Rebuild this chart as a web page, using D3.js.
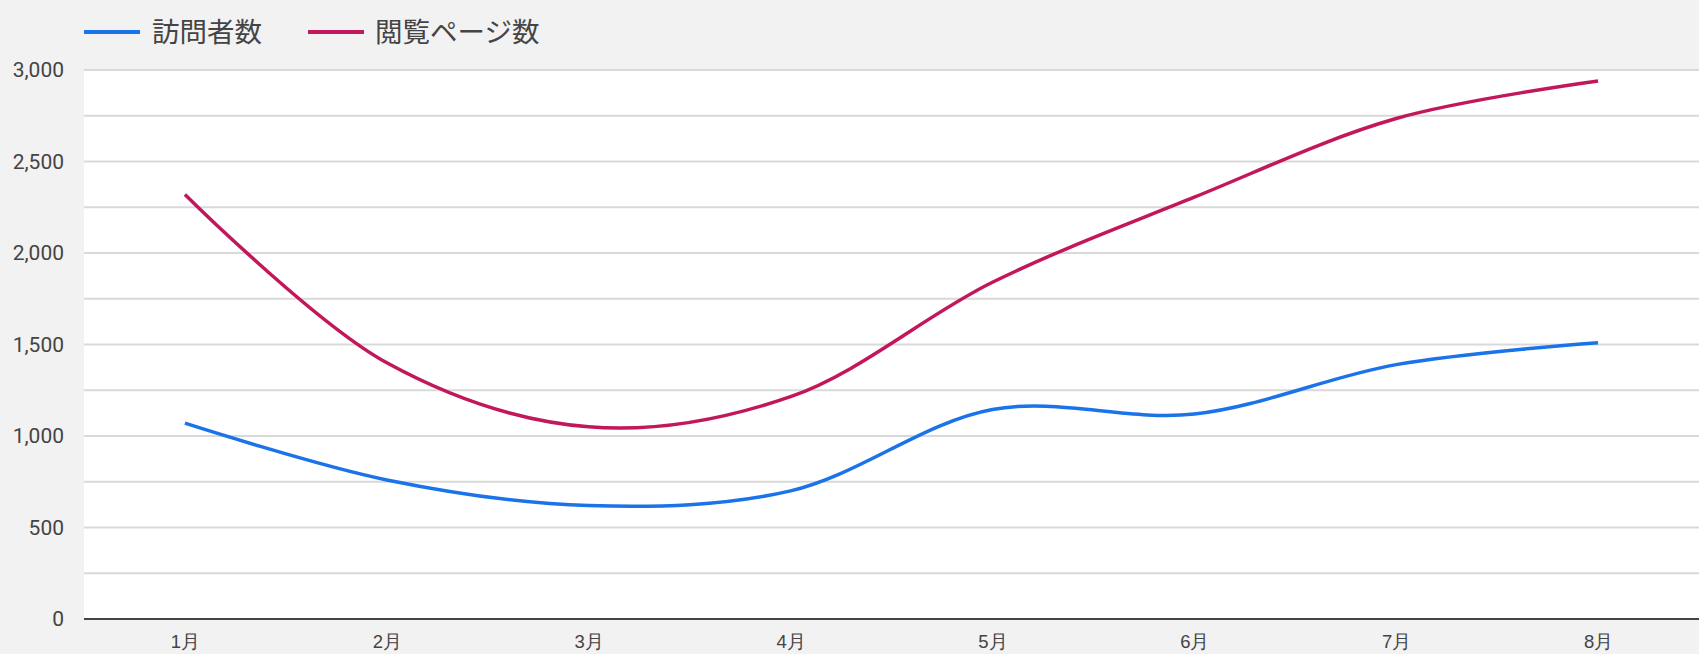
<!DOCTYPE html>
<html>
<head>
<meta charset="utf-8">
<script src="https://cdn.jsdelivr.net/npm/d3@7"></script>
<style>
  html, body { margin: 0; padding: 0; background: #f2f2f2; }
  svg { display: block; font-family: Roboto, "Noto Sans CJK JP", sans-serif; }
</style>
</head>
<body>
<svg id="chart" width="1699" height="654"></svg>
<script>
// Monthly traffic: visitors and page views
const months = ["1月", "2月", "3月", "4月", "5月", "6月", "7月", "8月"];
const visitors = [1070, 760, 620, 700, 1145, 1120, 1390, 1510];
const pageViews = [2320, 1400, 1050, 1215, 1840, 2305, 2735, 2940];
const seriesNames = ["訪問者数", "閲覧ページ数"];
const seriesColors = ["#1a73e8", "#c2185b"];
const yTicks = [0, 500, 1000, 1500, 2000, 2500, 3000];
const yGrid = d3.range(0, 3001, 250);

const W = 1699, H = 654;
const margin = { top: 70, right: 0, bottom: 35, left: 84 };
const innerW = W - margin.left - margin.right;
const innerH = H - margin.top - margin.bottom;

const svg = d3.select("#chart");
svg.append("rect").attr("width", W).attr("height", H).attr("fill", "#f2f2f2");

const g = svg.append("g").attr("transform", `translate(${margin.left},${margin.top})`);

const x = d3.scalePoint().domain(months).range([0, innerW]).padding(0.5);
const y = d3.scaleLinear().domain([0, 3000]).range([innerH, 0]);

// plot background
g.append("rect").attr("width", innerW).attr("height", innerH).attr("fill", "#ffffff");

// horizontal gridlines
g.append("g").selectAll("line").data(yGrid.filter(d => d > 0)).join("line")
  .attr("x1", 0).attr("x2", innerW)
  .attr("y1", d => y(d)).attr("y2", d => y(d))
  .attr("stroke", "#d9d9d9").attr("stroke-width", 2);

// y axis labels
const yAxis = d3.axisLeft(y).tickValues(yTicks).tickSize(0).tickPadding(20)
  .tickFormat(d3.format(","));
const ya = g.append("g").call(yAxis);
ya.select(".domain").remove();
ya.selectAll("text").attr("fill", "#444").attr("font-size", 21)
  .attr("font-family", "Roboto, sans-serif");

// x axis labels
const xAxis = d3.axisBottom(x).tickSize(0).tickPadding(16);
const xa = g.append("g").attr("transform", `translate(0,${innerH})`).call(xAxis);
xa.select(".domain").remove();
xa.selectAll("text").attr("fill", "#444").attr("font-size", 18.5);

// baseline
g.append("line").attr("x1", 0).attr("x2", innerW)
  .attr("y1", y(0)).attr("y2", y(0))
  .attr("stroke", "#444").attr("stroke-width", 2);

// smoothed lines
const line = d3.line()
  .x((d, i) => x(months[i]))
  .y(d => y(d))
  .curve(d3.curveCatmullRom.alpha(0.5));

[visitors, pageViews].forEach((vals, k) => {
  g.append("path").datum(vals)
    .attr("d", line)
    .attr("fill", "none")
    .attr("stroke", seriesColors[k])
    .attr("stroke-width", 3.5);
});

// legend
const legendItems = [
  { x: 84, textX: 152 },
  { x: 308, textX: 375 }
];
const lg = svg.append("g");
legendItems.forEach((it, k) => {
  lg.append("line").attr("x1", it.x).attr("x2", it.x + 56)
    .attr("y1", 32).attr("y2", 32)
    .attr("stroke", seriesColors[k]).attr("stroke-width", 4);
  lg.append("text").attr("x", it.textX).attr("y", 32)
    .attr("dominant-baseline", "central")
    .attr("font-size", 27.5).attr("fill", "#444")
    .text(seriesNames[k]);
});
</script>
</body>
</html>
